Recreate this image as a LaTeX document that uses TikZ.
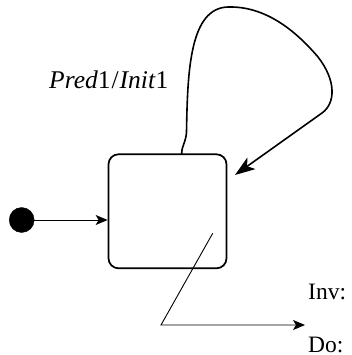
\documentclass[tikz,border=0pt]{standalone}
\usepackage{fontspec}
\setmainfont{Liberation Serif}
\usetikzlibrary{arrows.meta}
\begin{document}
\begin{tikzpicture}[x=1pt,y=-1pt,
  statebox/.style={draw,line width=1.7pt,rounded corners=10pt,minimum width=118pt,minimum height=114pt,inner sep=0pt},
  thinarrow/.style={line width=0.9pt,-{Stealth[length=12pt,width=10pt,inset=3pt]}},
  looparrow/.style={line width=1.6pt,-{Stealth[length=20pt,width=14pt,inset=5pt]}},
  lbl/.style={inner sep=0pt,font=\fontsize{23.5}{28}\selectfont}]
  \useasboundingbox (0,0) rectangle (351,355);
  % state box and initial pseudo-state
  \node[statebox] (box) at (167.5,211.3) {};
  \node[circle,fill=black,draw=black,minimum size=25pt,inner sep=0pt] (init) at (21.7,220) {};
  \draw[thinarrow] (init) -- (init -| box.west);
  % self-transition loop
  \coordinate (ls) at (181.7,154);
  \coordinate (le) at (235,175);
  \draw[looparrow] (ls) .. controls (181.5,146) and (186,142) .. (186.5,132)
    .. controls (187.5,70) and (190,8) .. (228,7)
    .. controls (265,6) and (295,30) .. (318,57)
    .. controls (336,80) and (336,103) .. (322,113) -- (le);
  \node[inner sep=0pt,anchor=base west,font=\fontsize{25.5}{30}\selectfont] (guard) at (49,89) {\textit{Pred}1\kern1pt/\kern1pt\textit{Init}1};
  % link to the invariant / do annotation
  \coordinate (ds) at (212.7,233.3);
  \coordinate (dk) at (161,325);
  \coordinate (dt) at (305,325);
  \draw[thinarrow] (ds) -- (dk) -- (dt);
  \node[lbl,anchor=west] (inv) at (308,292) {Inv:};
  \node[lbl,anchor=west] (do) at (308,345) {Do:};
\end{tikzpicture}
\end{document}
